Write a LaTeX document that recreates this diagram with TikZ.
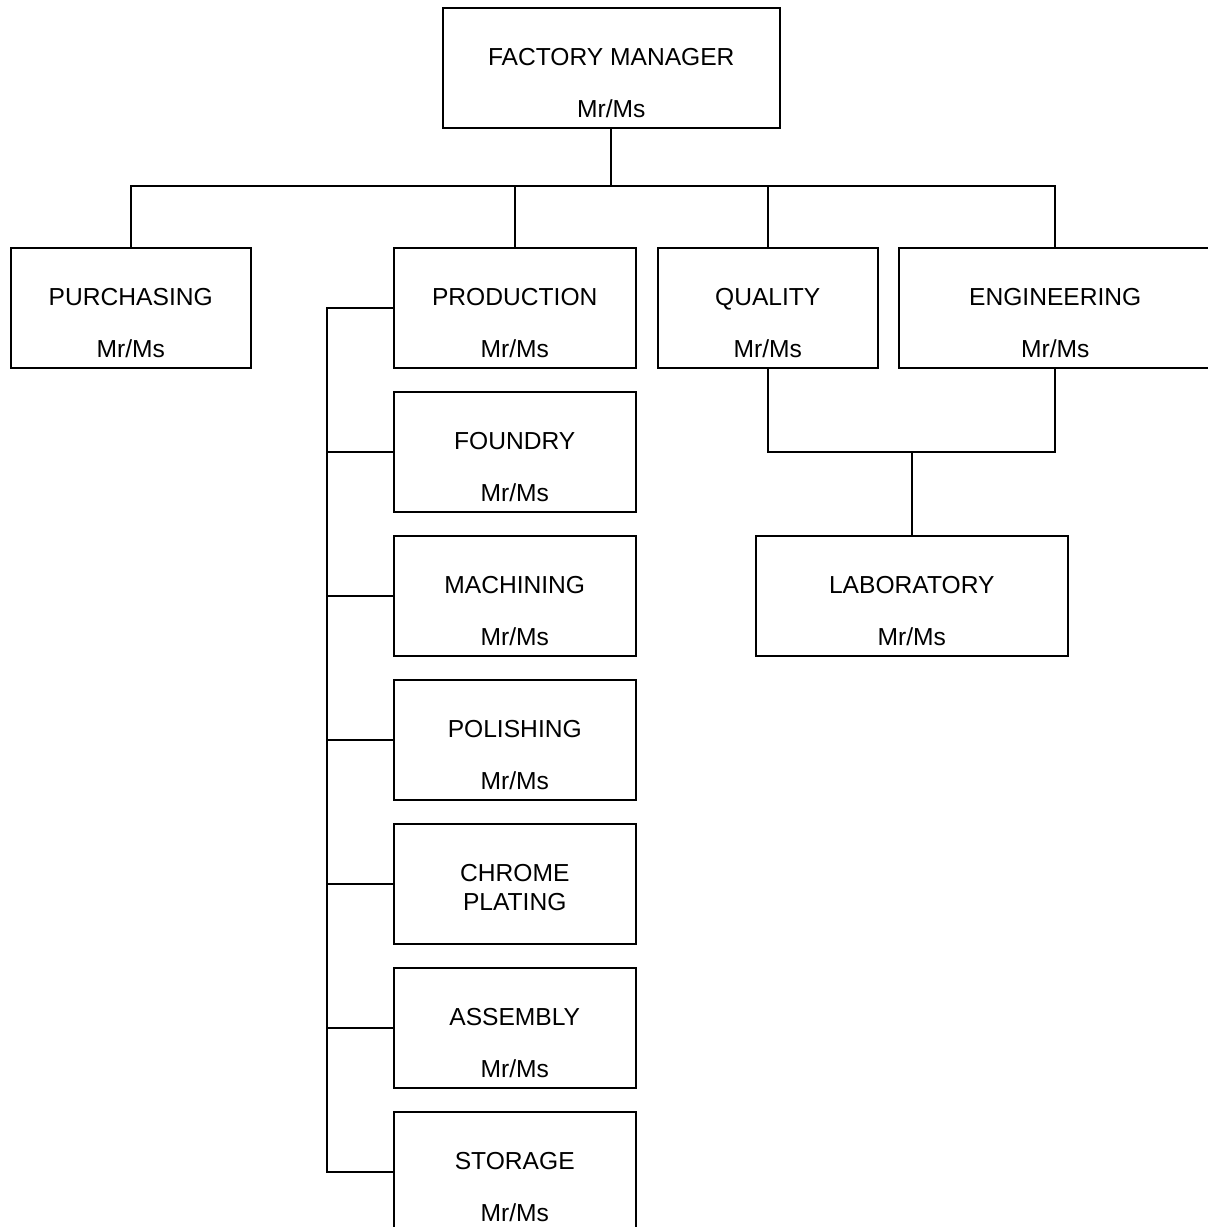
\documentclass[tikz,border=0pt]{standalone}
\usepackage{fontspec}
\setmainfont{Liberation Sans}
\begin{document}
\begin{tikzpicture}[x=0.5pt,y=-0.5pt,
  box/.style={draw, rectangle, line width=0.75pt, anchor=north west, inner sep=0pt, minimum height=60pt},
  lbl/.style={anchor=base, inner sep=0pt, font=\fontsize{12.3}{14}\selectfont},
  conn/.style={draw, line width=1pt}]
\useasboundingbox (0,0) rectangle (1207,1227);
% boxes
\node[box, minimum width=168.5pt] (fm)  at (442,7) {};
\node[box, minimum width=120pt]   (pur) at (10,247) {};
\node[box, minimum width=121pt]   (prod) at (393,247) {};
\node[box, minimum width=110pt]   (qual) at (657,247) {};
\node[box, minimum width=156.5pt] (eng) at (898,247) {};
\node[box, minimum width=156pt]   (lab) at (755,535) {};
\node[box, minimum width=121pt]   (fou) at (393,391) {};
\node[box, minimum width=121pt]   (mac) at (393,535) {};
\node[box, minimum width=121pt]   (pol) at (393,679) {};
\node[box, minimum width=121pt]   (chr) at (393,823) {};
\node[box, minimum width=121pt]   (ass) at (393,967) {};
\node[box, minimum width=121pt]   (sto) at (393,1111) {};
% labels
\node[lbl] at ([yshift=-29pt]fm.north) {FACTORY MANAGER};
\node[lbl] at ([yshift=-55pt]fm.north) {Mr/Ms};
\node[lbl] at ([yshift=-29pt]pur.north) {PURCHASING};
\node[lbl] at ([yshift=-55pt]pur.north) {Mr/Ms};
\node[lbl] at ([yshift=-29pt]prod.north) {PRODUCTION};
\node[lbl] at ([yshift=-55pt]prod.north) {Mr/Ms};
\node[lbl] at ([yshift=-29pt]qual.north) {QUALITY};
\node[lbl] at ([yshift=-55pt]qual.north) {Mr/Ms};
\node[lbl] at ([yshift=-29pt]eng.north) {ENGINEERING};
\node[lbl] at ([yshift=-55pt]eng.north) {Mr/Ms};
\node[lbl] at ([yshift=-29pt]lab.north) {LABORATORY};
\node[lbl] at ([yshift=-55pt]lab.north) {Mr/Ms};
\node[lbl] at ([yshift=-29pt]fou.north) {FOUNDRY};
\node[lbl] at ([yshift=-55pt]fou.north) {Mr/Ms};
\node[lbl] at ([yshift=-29pt]mac.north) {MACHINING};
\node[lbl] at ([yshift=-55pt]mac.north) {Mr/Ms};
\node[lbl] at ([yshift=-29pt]pol.north) {POLISHING};
\node[lbl] at ([yshift=-55pt]pol.north) {Mr/Ms};
\node[lbl] at ([yshift=-29pt]chr.north) {CHROME};
\node[lbl] at ([yshift=-43.5pt]chr.north) {PLATING};
\node[lbl] at ([yshift=-29pt]ass.north) {ASSEMBLY};
\node[lbl] at ([yshift=-55pt]ass.north) {Mr/Ms};
\node[lbl] at ([yshift=-29pt]sto.north) {STORAGE};
\node[lbl] at ([yshift=-55pt]sto.north) {Mr/Ms};
% connectors
\coordinate (bus) at (fm.south |- 0,186);
\coordinate (spine) at (327,308);
\coordinate (qe) at (lab.north |- 0,452);
\draw[conn] (fm.south) -- (bus);
\draw[conn] (pur.north) |- (eng.north |- bus) -- (eng.north);
\draw[conn] (prod.north) -- (prod.north |- bus);
\draw[conn] (qual.north) -- (qual.north |- bus);
\draw[conn] (qual.south) |- (qe) -| (eng.south);
\draw[conn] (qe) -- (lab.north);
\draw[conn] (prod.west) -- (spine |- prod.west) |- (sto.west);
\draw[conn] (spine |- fou.west) -- (fou.west);
\draw[conn] (spine |- mac.west) -- (mac.west);
\draw[conn] (spine |- pol.west) -- (pol.west);
\draw[conn] (spine |- chr.west) -- (chr.west);
\draw[conn] (spine |- ass.west) -- (ass.west);
\end{tikzpicture}
\end{document}
